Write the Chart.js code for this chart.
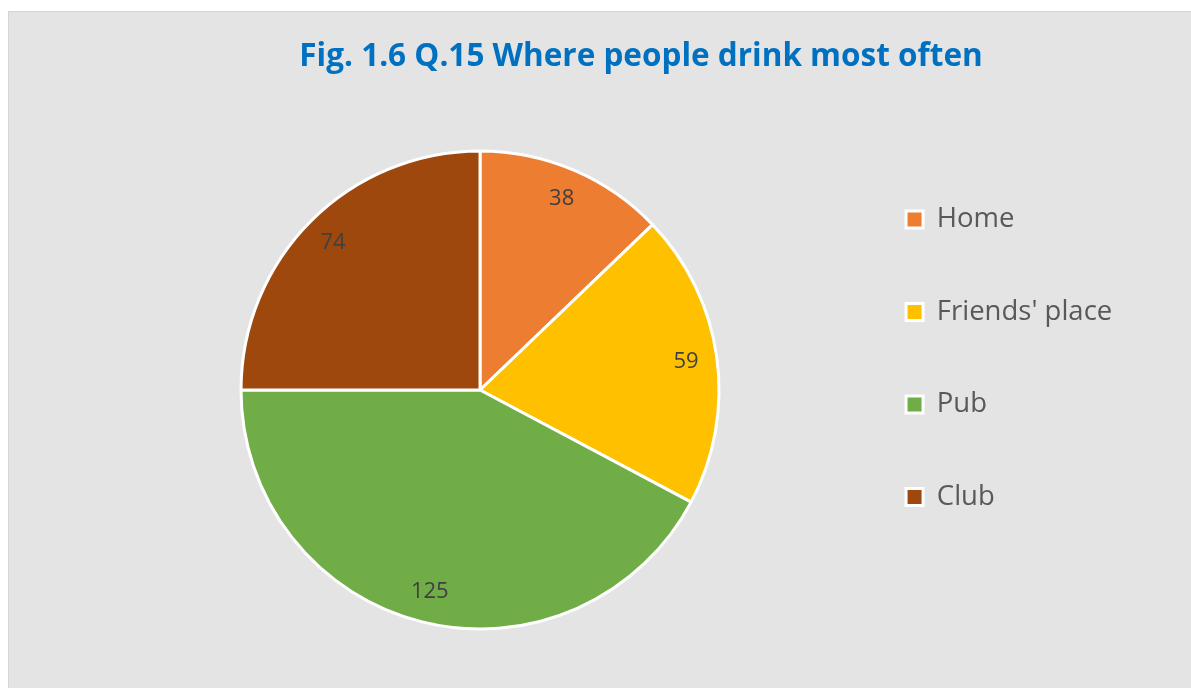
<!DOCTYPE html>
<html>
<head>
<meta charset="utf-8">
<script src="https://cdn.jsdelivr.net/npm/chart.js@4.4.1/dist/chart.umd.min.js"></script>
<style>
  html, body { margin: 0; padding: 0; background: #ffffff; overflow: hidden; }
  #panel { position: absolute; left: 8px; top: 11px; width: 1200px; height: 700px;
           background: #e4e4e4; border-left: 1px solid #d5d5d5; border-top: 1px solid #d5d5d5; }
  #pie { position: absolute; left: 0; top: 0; }
</style>
</head>
<body>
<div id="panel"></div>
<canvas id="pie" width="1191" height="688"></canvas>
<script>
const places = ['Home', "Friends' place", 'Pub', 'Club'];
const counts = [38, 59, 125, 74];
const sliceColors = ['#ed7d31', '#ffc000', '#70ad47', '#9e480e'];

const FONT = "'Open Sans', sans-serif";

// value printed inside each slice, near the rim
const valueLabels = {
  id: 'valueLabels',
  afterDatasetsDraw(chart) {
    const ctx = chart.ctx;
    const meta = chart.getDatasetMeta(0);
    ctx.save();
    ctx.font = '22px ' + FONT;
    ctx.fillStyle = '#404040';
    ctx.textAlign = 'center';
    ctx.textBaseline = 'middle';
    meta.data.forEach((arc, i) => {
      const p = arc.getProps(['x', 'y', 'startAngle', 'endAngle', 'outerRadius']);
      const mid = (p.startAngle + p.endAngle) / 2;
      const r = p.outerRadius * 0.87;
      ctx.fillText(counts[i], p.x + Math.cos(mid) * r, p.y + Math.sin(mid) * r);
    });
    ctx.restore();
  }
};

new Chart(document.getElementById('pie'), {
  type: 'pie',
  data: {
    labels: places,
    datasets: [{
      data: counts,
      backgroundColor: sliceColors,
      borderColor: '#ffffff',
      borderWidth: 3,
      radius: 239
    }]
  },
  options: {
    responsive: false,
    animation: false,
    layout: { padding: { left: 119, right: 28, top: 0, bottom: 112.25 } },
    plugins: {
      title: {
        display: true,
        text: 'Fig. 1.6 Q.15 Where people drink most often',
        color: '#0070c0',
        font: { family: FONT, size: 31.5, weight: 'bold', lineHeight: 1.2 },
        padding: { top: 37.7, bottom: 128.75 }
      },
      // empty box that keeps the legend clear of the pie
      subtitle: {
        display: true,
        position: 'right',
        fullSize: false,
        text: '',
        font: { size: 40.75, lineHeight: 1 },
        padding: 0
      },
      legend: {
        position: 'right',
        align: 'end',
        maxWidth: 500,
        labels: {
          color: '#595959',
          font: { family: FONT, size: 27.5 },
          boxWidth: 17,
          boxHeight: 17,
          padding: 65
        }
      },
      tooltip: { enabled: false }
    }
  },
  plugins: [valueLabels]
});
</script>
</body>
</html>
